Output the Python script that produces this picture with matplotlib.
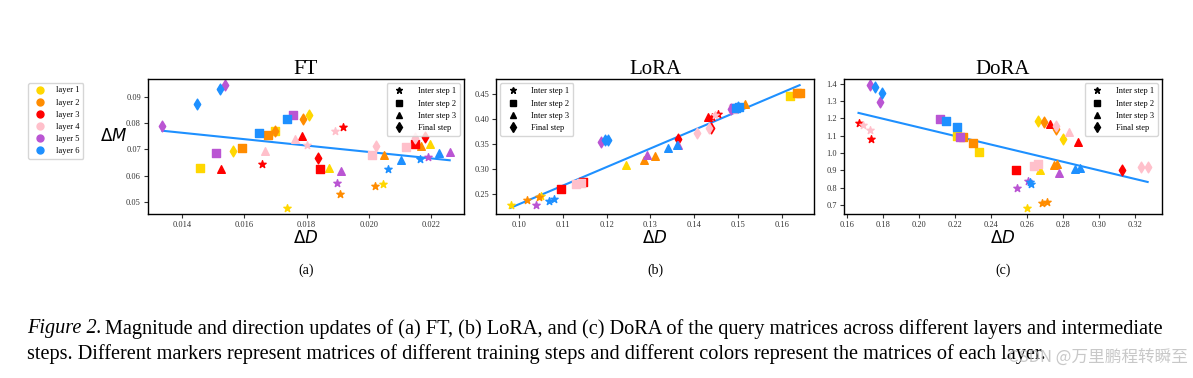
import numpy as np
import matplotlib
matplotlib.use('Agg')
import matplotlib.pyplot as plt
from matplotlib.lines import Line2D

plt.rcParams['font.family'] = ['Liberation Serif', 'DejaVu Serif']

# layers and training steps
layer_names = ['layer 1', 'layer 2', 'layer 3', 'layer 4', 'layer 5', 'layer 6']
layer_colors = ['gold', 'darkorange', 'red', 'pink', 'mediumorchid', 'dodgerblue']
step_names = ['Inter step 1', 'Inter step 2', 'Inter step 3', 'Final step']
step_markers = ['*', 's', '^', 'd']

# FT: layer, step, delta D, delta M
ft_layer = [1, 1, 1, 1, 1, 1, 1, 1,
            2, 2, 2, 2, 2, 2, 2, 2,
            3, 3, 3, 3, 3, 3, 3, 3,
            4, 4, 4, 4, 4, 4, 4, 4,
            5, 5, 5, 5, 5, 5, 5, 5,
            6, 6, 6, 6, 6, 6, 6, 6]
ft_step = [1, 1, 2, 2, 3, 3, 4, 4] * 6
ft_dd = [0.01737, 0.02046, 0.01457, 0.01699, 0.01873, 0.02197, 0.01563, 0.01809,
         0.01907, 0.02019, 0.01676, 0.01591, 0.02050, 0.02168, 0.01697, 0.01788,
         0.01656, 0.01917, 0.01842, 0.02149, 0.01785, 0.01526, 0.01837, 0.02181,
         0.01892, 0.01800, 0.02010, 0.02121, 0.01762, 0.01667, 0.02022, 0.02148,
         0.01898, 0.02191, 0.01757, 0.01508, 0.01912, 0.02260, 0.01336, 0.01538,
         0.02062, 0.02164, 0.01647, 0.01736, 0.02103, 0.02227, 0.01448, 0.01520]
ft_dm = [0.0477, 0.0568, 0.0631, 0.0771, 0.0631, 0.0722, 0.0696, 0.0830,
         0.0528, 0.0560, 0.0755, 0.0704, 0.0680, 0.0713, 0.0769, 0.0817,
         0.0644, 0.0786, 0.0625, 0.0721, 0.0753, 0.0626, 0.0667, 0.0748,
         0.0772, 0.0717, 0.0677, 0.0710, 0.0740, 0.0694, 0.0715, 0.0742,
         0.0573, 0.0672, 0.0831, 0.0685, 0.0618, 0.0691, 0.0791, 0.0946,
         0.0625, 0.0663, 0.0762, 0.0817, 0.0659, 0.0685, 0.0875, 0.0931]

# LoRA
lora_layer = [1, 2, 5, 2, 1, 6, 6, 3, 3, 4, 4, 5, 6, 6, 1, 2, 5, 2, 6, 5, 6, 3,
              4, 4, 3, 3, 3, 4, 3, 5, 4, 5, 6, 6, 6, 2, 1, 2, 2]
lora_step = [1, 1, 1, 1, 1, 1, 1, 2, 2, 2, 2, 4, 4, 4, 3, 3, 3, 3, 3, 3, 3, 4,
             4, 4, 4, 3, 1, 1, 1, 4, 2, 2, 2, 2, 4, 3, 2, 2, 2]
lora_dd = [0.0980, 0.1018, 0.1038, 0.1045, 0.1049, 0.1067, 0.1079, 0.1096, 0.1146,
           0.1129, 0.1142, 0.1188, 0.1197, 0.1202, 0.1244, 0.1285, 0.1293, 0.1311,
           0.1340, 0.1364, 0.1360, 0.1364, 0.1407, 0.1433, 0.1439, 0.1431, 0.1440,
           0.1447, 0.1455, 0.1484, 0.1488, 0.1492, 0.1496, 0.1503, 0.1500, 0.1515,
           0.1619, 0.1636, 0.1641]
lora_dm = [0.2272, 0.2372, 0.2280, 0.2432, 0.2446, 0.2352, 0.2386, 0.2600, 0.2725,
           0.2686, 0.2720, 0.3526, 0.3566, 0.3580, 0.3072, 0.3166, 0.3266, 0.3250,
           0.3406, 0.3472, 0.3466, 0.3600, 0.3720, 0.3806, 0.3820, 0.4026, 0.4045,
           0.4076, 0.4096, 0.4200, 0.4205, 0.4215, 0.4220, 0.4240, 0.4230, 0.4286,
           0.4460, 0.4506, 0.4515]

# DoRA
dora_layer = [3, 4, 4, 3, 5, 6, 6, 5, 5, 6, 6, 1, 5, 2, 2, 1, 3, 5, 5, 6, 6, 1,
              2, 2, 4, 4, 1, 2, 2, 5, 1, 2, 3, 4, 2, 4, 1, 3, 6, 6, 3, 4, 4]
dora_step = [1, 1, 1, 1, 4, 4, 4, 4, 2, 2, 2, 2, 2, 2, 2, 2, 2, 1, 1, 1, 1, 1,
             1, 1, 2, 2, 3, 3, 3, 3, 4, 4, 3, 4, 4, 3, 4, 3, 3, 3, 4, 4, 4]
dora_dd = [0.1664, 0.1691, 0.1728, 0.1733, 0.1729, 0.1753, 0.1792, 0.1785, 0.2120,
           0.2152, 0.2213, 0.2211, 0.2228, 0.2246, 0.2303, 0.2333, 0.2539, 0.2548,
           0.2609, 0.2620, 0.2622, 0.2600, 0.2683, 0.2711, 0.2641, 0.2661, 0.2672,
           0.2752, 0.2768, 0.2778, 0.2661, 0.2694, 0.2729, 0.2763, 0.2761, 0.2837,
           0.2800, 0.2883, 0.2870, 0.2894, 0.3129, 0.3233, 0.3272]
dora_dm = [1.171, 1.162, 1.133, 1.078, 1.392, 1.383, 1.349, 1.293, 1.194,
           1.185, 1.152, 1.099, 1.094, 1.092, 1.057, 1.005, 0.902, 0.799,
           0.838, 0.830, 0.822, 0.683, 0.708, 0.718, 0.927, 0.935, 0.902,
           0.931, 0.935, 0.884, 1.185, 1.177, 1.165, 1.154, 1.138, 1.121,
           1.082, 1.066, 0.906, 0.912, 0.902, 0.919, 0.921]

panels = [
    ('FT', ft_layer, ft_step, ft_dd, ft_dm, 'upper right'),
    ('LoRA', lora_layer, lora_step, lora_dd, lora_dm, 'upper left'),
    ('DoRA', dora_layer, dora_step, dora_dd, dora_dm, 'upper right'),
]
axes_pos = [[0.124, 0.434, 0.265, 0.357],
            [0.4158, 0.434, 0.2666, 0.357],
            [0.7075, 0.434, 0.2666, 0.357]]
sub_labels = ['(a)', '(b)', '(c)']

fig = plt.figure(figsize=(11.93, 3.78), dpi=100)

for i, (name, lay, stp, dd, dm, loc) in enumerate(panels):
    ax = fig.add_axes(axes_pos[i])
    lay = np.array(lay)
    stp = np.array(stp)
    dd = np.array(dd)
    dm = np.array(dm)

    # linear fit line
    k, b = np.polyfit(dd, dm, 1)
    xs = np.array([dd.min(), dd.max()])
    ax.plot(xs, k * xs + b, color='dodgerblue', lw=1.5, zorder=1)

    for l in range(1, 7):
        for s in range(1, 5):
            m = (lay == l) & (stp == s)
            if m.any():
                ax.scatter(dd[m], dm[m], color=layer_colors[l - 1],
                           marker=step_markers[s - 1], s=30, zorder=2)

    ax.set_title(name, fontsize=15, pad=3)
    ax.tick_params(labelsize=6, length=3, width=0.8, pad=2, colors='#333333')
    for sp in ax.spines.values():
        sp.set_linewidth(1.0)
    ax.set_xlabel(r'$\Delta D$', fontsize=12, family='DejaVu Sans')
    ax.xaxis.set_label_coords(0.5, -0.178)
    ax.xaxis.label.set_va('center')
    if i == 0:
        ax.set_ylabel(r'$\Delta M$', fontsize=12, rotation=0, family='DejaVu Sans')
        ax.yaxis.set_label_coords(-0.108, 0.574)
        ax.yaxis.label.set_va('center')
        ax.yaxis.label.set_ha('center')

    handles = [Line2D([], [], marker=step_markers[s], color='black', linestyle='None',
                      markersize=5) for s in range(4)]
    ax.legend(handles, step_names, loc=loc, fontsize=6, handletextpad=1.2,
              borderpad=0.5, labelspacing=0.5)

    fig.text(axes_pos[i][0] + axes_pos[i][2] / 2, 1 - 270 / 378, sub_labels[i],
             ha='center', va='center', fontsize=10)

# layer legend on the left
layer_handles = [Line2D([], [], marker='o', color=c, linestyle='None', markersize=5)
                 for c in layer_colors]
fig.legend(layer_handles, layer_names, loc='upper left',
           bbox_to_anchor=(24 / 1193, 1 - 79 / 378), fontsize=6,
           handletextpad=1.0, labelspacing=0.5)

# caption
fig.canvas.draw()
r = fig.canvas.get_renderer()
t1 = fig.text(27 / 1193, 1 - 329 / 378, 'Figure 2.', fontsize=14.6, style='italic',
              va='center')
bb = t1.get_window_extent(renderer=r)
fig.text(bb.x1 / fig.bbox.width + 3 / 1193, 1 - 329 / 378,
         'Magnitude and direction updates of (a) FT, (b) LoRA, and (c) DoRA of the '
         'query matrices across different layers and intermediate',
         fontsize=14.6, va='center')
fig.text(27 / 1193, 1 - 354 / 378,
         'steps. Different markers represent matrices of different training steps '
         'and different colors represent the matrices of each layer.',
         fontsize=14.6, va='center')
fig.text(1188 / 1193, 1 - 357 / 378, 'CSDN @万里鹏程转瞬至', ha='right', va='center',
         fontsize=12, color='#bbbbbb', alpha=0.8,
         family=['Noto Sans CJK SC', 'DejaVu Sans'])

fig.savefig('out.png', dpi=100)
